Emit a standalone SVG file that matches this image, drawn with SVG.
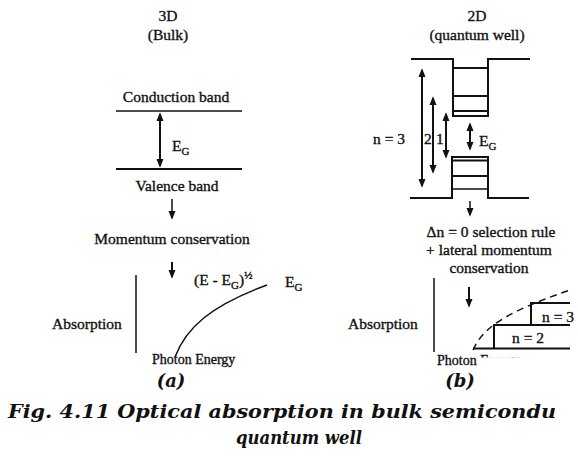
<svg xmlns="http://www.w3.org/2000/svg" width="578" height="462" viewBox="0 0 578 462">
<style>
.t{font-family:"Liberation Serif","Times New Roman","DejaVu Serif",serif;font-size:15.5px;fill:#111;stroke:#111;stroke-width:0.35}
.s{font-size:14px}
.sub{font-size:11px}
.ln{stroke:#111;stroke-width:2;fill:none}
.th{stroke:#111;stroke-width:1.5;fill:none}
.cap{font-family:"DejaVu Serif",serif;font-weight:bold;font-style:italic;font-size:18px;fill:#111}
</style>
<defs>
<marker id="ah" viewBox="0 0 10 8" refX="8" refY="4" markerWidth="9" markerHeight="7.2" markerUnits="userSpaceOnUse" orient="auto-start-reverse">
<path d="M0,0 L10,4 L0,8 z" fill="#111"/>
</marker>
<clipPath id="pe">
<rect x="0" y="340" width="478" height="40"/>
<rect x="478" y="340" width="100" height="17.5"/>
</clipPath>
</defs>

<g id="left-title">
<text class="t" x="168" y="21" text-anchor="middle">3D</text>
<text class="t" x="168" y="40" text-anchor="middle">(Bulk)</text>
</g>

<g id="bulk-bands">
<text class="t" x="176" y="102" text-anchor="middle">Conduction band</text>
<line class="th" x1="116" y1="111" x2="242" y2="111"/>
<line class="ln" x1="116" y1="169" x2="242" y2="169" stroke-width="2.5"/>
<text class="t" x="177" y="191" text-anchor="middle">Valence band</text>
<text class="t" x="172" y="151">E<tspan class="sub" dy="4">G</tspan></text>
</g>

<g id="bulk-text">
<text class="t" x="172" y="244" text-anchor="middle">Momentum conservation</text>
</g>

<g id="bulk-plot">
<line class="th" x1="136" y1="275" x2="136" y2="353"/>
<text class="t" x="52" y="329">Absorption</text>
<path class="th" d="M175,357 C186,328 210,306 267,285"/>
<text class="t" x="194" y="285">(E - E<tspan class="sub" dy="4">G</tspan><tspan dy="-4">)</tspan><tspan class="sub" dy="-6">½</tspan></text>
<text class="t" x="285" y="287">E<tspan class="sub" dy="4">G</tspan></text>
<text class="t s" x="152" y="364">Photon Energy</text>
</g>

<g id="right-title">
<text class="t" x="477" y="21" text-anchor="middle">2D</text>
<text class="t" x="477" y="40" text-anchor="middle">(quantum well)</text>
</g>

<g id="quantum-well">
<polyline class="ln" points="411,59 453,59 453,116 488,116 488,59 530,59"/>
<line class="ln" x1="453" y1="68" x2="488" y2="68"/>
<line class="ln" x1="453" y1="96" x2="488" y2="96"/>
<line class="ln" x1="453" y1="111" x2="488" y2="111"/>
<polyline class="ln" points="410,198 452,198 452,157 488,157 488,198 529,198"/>
<line class="ln" x1="452" y1="160.5" x2="488" y2="160.5"/>
<line class="ln" x1="452" y1="176" x2="488" y2="176"/>
<line class="th" x1="452" y1="189" x2="488" y2="189" stroke="#666"/>
<text class="t" x="373" y="144">n = 3</text>
<text class="t" x="424" y="144">2</text>
<text class="t" x="436" y="144">1</text>
<text class="t" x="479" y="146">E<tspan class="sub" dy="4">G</tspan></text>
</g>

<g id="qw-text">
<text class="t" x="491" y="237" text-anchor="middle">Δn = 0 selection rule</text>
<text class="t" x="489" y="255" text-anchor="middle">+ lateral momentum</text>
<text class="t" x="489" y="273" text-anchor="middle">conservation</text>
</g>

<g id="qw-plot">
<line class="th" x1="434" y1="278" x2="434" y2="352"/>
<text class="t" x="348" y="329">Absorption</text>
<path class="th" d="M473,350 C482,330 500,314 570,290" stroke-dasharray="7,5"/>
<line class="ln" x1="473" y1="348.5" x2="570" y2="348.5" stroke="#333" stroke-width="2.5"/>
<polyline class="ln" points="494,348 494,325 570,325"/>
<polyline class="ln" points="531,325 531,303 570,303"/>
<text class="t" x="542" y="322">n = 3</text>
<text class="t" x="512" y="343">n = 2</text>
<text class="t s" x="437" y="365" clip-path="url(#pe)">Photon Energy</text>
</g>

<g id="connectors">
<line class="ln" x1="160" y1="114" x2="160" y2="166" marker-start="url(#ah)" marker-end="url(#ah)"/>
<line class="th" x1="172" y1="199" x2="172" y2="218" marker-end="url(#ah)"/>
<line class="ln" x1="172" y1="262" x2="172" y2="277" marker-end="url(#ah)"/>
<line class="ln" x1="422" y1="70" x2="422" y2="186" marker-start="url(#ah)" marker-end="url(#ah)"/>
<line class="ln" x1="433" y1="98" x2="433" y2="172" marker-start="url(#ah)" marker-end="url(#ah)"/>
<line class="ln" x1="446" y1="114" x2="446" y2="157" marker-start="url(#ah)" marker-end="url(#ah)"/>
<line class="ln" x1="470" y1="124" x2="470" y2="149" marker-start="url(#ah)" marker-end="url(#ah)"/>
<line class="th" x1="470" y1="201" x2="470" y2="215" marker-end="url(#ah)"/>
<line class="ln" x1="469" y1="287" x2="469" y2="306" marker-end="url(#ah)"/>
</g>

<g id="caption">
<text class="cap" x="171" y="387" text-anchor="middle">(a)</text>
<text class="cap" x="460" y="387" text-anchor="middle">(b)</text>
<text class="cap" x="8" y="418" textLength="548" lengthAdjust="spacingAndGlyphs">Fig. 4.11 Optical absorption in bulk semicondu</text>
<text class="cap" x="236" y="444" textLength="126" lengthAdjust="spacingAndGlyphs">quantum well</text>
</g>
</svg>
